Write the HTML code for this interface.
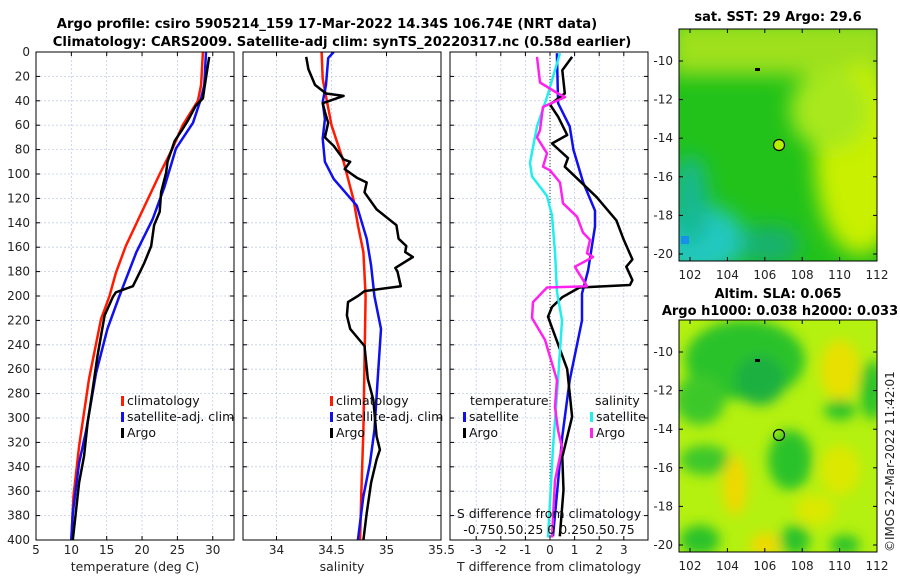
<!DOCTYPE html>
<html><head><meta charset="utf-8"><style>
body{margin:0;background:#fff}
svg{display:block;font-family:"DejaVu Sans","Liberation Sans",sans-serif}
</style></head><body>
<svg id="chart" width="900" height="580" viewBox="0 0 900 580">
<defs>
<filter id="blur6" x="-50%" y="-50%" width="200%" height="200%"><feGaussianBlur stdDeviation="6"/></filter>
<filter id="blur10" x="-50%" y="-50%" width="200%" height="200%"><feGaussianBlur stdDeviation="10"/></filter>
<clipPath id="cm1"><rect x="679" y="29" width="198" height="232"/></clipPath>
<clipPath id="cm2"><rect x="679" y="320" width="198" height="232"/></clipPath>
<clipPath id="cp1"><rect x="36" y="52" width="198" height="488"/></clipPath>
<clipPath id="cp2"><rect x="243" y="52" width="198" height="488"/></clipPath>
<clipPath id="cp3"><rect x="450" y="52" width="198" height="488"/></clipPath>
</defs>
<text x="327" y="28" text-anchor="middle" font-size="13.2" font-weight="bold">Argo profile: csiro 5905214_159 17-Mar-2022 14.34S 106.74E (NRT data)</text>
<text x="342" y="46" text-anchor="middle" font-size="13.2" font-weight="bold">Climatology: CARS2009. Satellite-adj clim: synTS_20220317.nc (0.58d earlier)</text>

<g id="maps">
<g clip-path="url(#cm1)">
<rect x="679" y="29" width="198" height="232" fill="#22c21a"/>
<g filter="url(#blur10)">
<rect x="670" y="20" width="220" height="55" fill="#9ee01a"/>
<ellipse cx="860" cy="160" rx="45" ry="95" fill="#c8f000"/>
<ellipse cx="830" cy="110" rx="40" ry="40" fill="#a8e81a"/>
<ellipse cx="700" cy="240" rx="45" ry="35" fill="#20c8c0"/>
<ellipse cx="690" cy="200" rx="18" ry="45" fill="#19b890"/>
<ellipse cx="770" cy="245" rx="30" ry="20" fill="#12b070"/>
</g>
<rect x="681" y="236" width="8" height="8" fill="#1890e8"/>
<circle cx="779" cy="145" r="5.5" fill="#b8ee00" stroke="#000" stroke-width="1.2"/>
<rect x="755" y="68" width="5" height="3" fill="#000"/>
</g>
<rect x="679" y="29" width="198" height="232" fill="none" stroke="#000"/>
<text x="778" y="21" text-anchor="middle" font-size="13" font-weight="bold">sat. SST: 29 Argo: 29.6</text>

<g clip-path="url(#cm2)">
<rect x="679" y="320" width="198" height="232" fill="#b4f010"/>
<g filter="url(#blur6)">
<ellipse cx="745" cy="360" rx="60" ry="40" fill="#2cc22a"/>
<ellipse cx="760" cy="380" rx="25" ry="25" fill="#1ab040"/>
<ellipse cx="700" cy="400" rx="25" ry="25" fill="#3cc82a"/>
<ellipse cx="705" cy="460" rx="25" ry="15" fill="#3cc82a"/>
<ellipse cx="790" cy="460" rx="22" ry="30" fill="#2cc22a"/>
<ellipse cx="840" cy="410" rx="16" ry="10" fill="#2cc22a"/>
<ellipse cx="872" cy="390" rx="12" ry="30" fill="#2cc22a"/>
<ellipse cx="700" cy="540" rx="20" ry="15" fill="#2cc22a"/>
<ellipse cx="795" cy="540" rx="15" ry="15" fill="#2cc22a"/>
<ellipse cx="845" cy="545" rx="15" ry="10" fill="#2cc22a"/>
<ellipse cx="840" cy="370" rx="20" ry="30" fill="#e8e000"/>
<ellipse cx="735" cy="485" rx="12" ry="30" fill="#f0d800"/>
<ellipse cx="765" cy="545" rx="15" ry="12" fill="#f0d800"/>
<ellipse cx="840" cy="470" rx="20" ry="25" fill="#dce800"/>
<ellipse cx="815" cy="510" rx="20" ry="15" fill="#dce800"/>
</g>
<circle cx="779" cy="435" r="5.5" fill="none" stroke="#000" stroke-width="1.2"/>
<rect x="755" y="359" width="5" height="3" fill="#000"/>
</g>
<rect x="679" y="320" width="198" height="232" fill="none" stroke="#000"/>
<text x="778" y="298" text-anchor="middle" font-size="13" font-weight="bold">Altim. SLA: 0.065</text>
<text x="780" y="315" text-anchor="middle" font-size="13" font-weight="bold">Argo h1000: 0.038 h2000: 0.033</text>
<text transform="translate(894,552) rotate(-90)" font-size="12" fill="#222">©IMOS 22-Mar-2022 11:42:01</text>
</g>
<g id="plots"></g>
</svg>
<script>
// ---- data ----
const depthTicks = [0,20,40,60,80,100,120,140,160,180,200,220,240,260,280,300,320,340,360,380,400];
const tempTicks = [5,10,15,20,25,30];
const salTicks = [34,34.5,35,35.5];
const dtTicks = [-3,-2,-1,0,1,2,3];
const dsTickLabels = "-0.750.50.25 0 0.250.50.75";
const lonTicks = [102,104,106,108,110,112];
const latTicks = [-10,-12,-14,-16,-18,-20];

const climTDepth = [0,27,40,60,79,100,127,159,181,200,219,268,323,364,400];
const climT = [28.6,28.35,27.9,25.75,24.3,22.5,20.3,17.7,16.3,15.4,14.2,12.5,11.1,10.3,10.0];
const satTDepth = [0,27,38,58,79,110,137,164,200,227,263,310,337,378,400];
const satT = [29.05,28.8,28.35,27.2,24.8,23.2,21.5,19.2,16.8,15.1,13.5,12.1,11.1,10.2,10.0];
const argoTDepth = [4,30,38,44,56,63,73,90,99,115,131,142,159,173,178,192,197,201,216,249,277,304,331,353,400];
const argoT = [29.5,28.8,28.6,27.6,26.5,25.75,24.6,23.6,23.4,22.7,22.5,21.7,21.3,20.3,19.9,18.7,16.3,15.85,14.7,13.7,13.0,12.3,11.8,11.1,10.2];

const climSDepth = [0,22,60,90,121,142,164,200,255,310,364,400];
const climS = [34.41,34.42,34.50,34.61,34.70,34.74,34.79,34.81,34.80,34.79,34.77,34.76];
const satSDepth = [0,5,27,41,55,71,90,104,126,153,175,200,227,268,310,337,364,400];
const satS = [34.52,34.47,34.45,34.42,34.44,34.42,34.44,34.52,34.73,34.82,34.86,34.89,34.95,34.92,34.89,34.85,34.79,34.74];
const argoSDepth = [4,14,27,34,36,42,49,58,70,77,88,90,96,103,107,115,129,142,153,159,164,168,177,180,192,196,200,205,216,227,241,268,285,315,326,334,353,378,400];
const argoS = [34.27,34.29,34.35,34.45,34.61,34.42,34.44,34.47,34.44,34.52,34.61,34.67,34.62,34.73,34.82,34.80,34.91,35.09,35.11,35.18,35.17,35.24,35.08,35.10,35.13,34.80,34.74,34.65,34.64,34.67,34.80,34.83,34.88,34.91,34.94,34.91,34.86,34.82,34.79];

const dTSatDepth = [1,42,61,80,107,130,143,179,198,220,269,315,397];
const dTSat = [0.28,0.33,0.8,0.95,1.35,1.83,1.83,1.55,1.3,1.3,0.8,0.5,0.12];
const dTArgoDepth = [4,15,34,43,53,68,75,87,94,119,138,154,170,176,187,191,193,201,209,217,260,299,332,359,397];
const dTArgo = [0.9,0.5,0.6,0,0.33,0.7,0.08,0.73,0.6,1.9,2.7,3.0,3.35,3.1,3.35,3.25,1.2,0.5,0.08,-0.08,0.7,0.9,0.5,0.55,0.4];
const dSSatDepth = [1,37,61,91,102,118,134,164,197,220,269,324,398];
const dSSat = [0.10,-0.03,-0.13,-0.20,-0.18,-0.03,0.02,0.05,0.07,0.12,0.08,0.03,-0.02];
const dSArgoDepth = [4,25,34,37,45,64,70,83,94,97,107,124,135,148,154,165,168,176,179,192,193,205,218,236,269,291,310,324,351,398];
const dSArgo = [-0.13,-0.10,0.08,0.15,-0.07,-0.10,-0.13,-0.03,-0.07,0,0.10,0.13,0.27,0.33,0.40,0.37,0.43,0.25,0.27,0.37,-0.03,-0.17,-0.18,-0.05,0.07,0.05,0.08,0.12,0.05,0.02];

// ---- axes ----
const Y0=52, Y1=540;
const yD = d => Y0 + d*(Y1-Y0)/400;
const xT = t => 36 + (t-5)*7.07;
const xS = s => 276.5 + (s-34)*110;
const xdT = t => 550 + t*24.6;
const xdS = s => 550 + s*100;

const NS="http://www.w3.org/2000/svg";
const root=document.getElementById('plots');
function mk(tag,attrs,parent){const e=document.createElementNS(NS,tag);for(const k in attrs)e.setAttribute(k,attrs[k]);(parent||root).appendChild(e);return e;}

function panel(x0,name,xticks,xf,xlabels,xtitle){
  const g=mk('g',{});
  
  
  depthTicks.forEach(d=>{ if(d>0&&d<400) mk('line',{x1:x0,x2:x0+198,y1:yD(d),y2:yD(d),stroke:'#c4cce8','stroke-width':0.8,'stroke-dasharray':'2,2'},g);
    mk('line',{x1:x0,x2:x0+4,y1:yD(d),y2:yD(d),stroke:'#000'},g); mk('line',{x1:x0+194,x2:x0+198,y1:yD(d),y2:yD(d),stroke:'#000'},g);});
  xticks.forEach((v,i)=>{const x=xf(v); if(x>x0+1&&x<x0+197){mk('line',{x1:x,x2:x,y1:Y0,y2:Y1,stroke:'#c4cce8','stroke-width':0.8,'stroke-dasharray':'2,2'},g);
    mk('line',{x1:x,x2:x,y1:Y1,y2:Y1-4,stroke:'#000'},g);mk('line',{x1:x,x2:x,y1:Y0,y2:Y0+4,stroke:'#000'},g);}
    const t=mk('text',{x:x,y:554,'text-anchor':'middle','font-size':12,fill:'#222'},g);t.textContent=xlabels[i];
    
    });
  const tt=mk('text',{x:x0+99,y:571,'text-anchor':'middle','font-size':12.5,fill:'#222'},g);tt.textContent=xtitle;
  
  
  return g;
}
function line(g,xs,ds,xf,color,name,clip){
  const p=mk('polyline',{points:xs.map((v,i)=>xf(v).toFixed(1)+','+yD(ds[i]).toFixed(1)).join(' '),fill:'none',stroke:color,'stroke-width':2.5,'stroke-linejoin':'round','clip-path':clip},g);
  
  
}
function box(g,x0){mk('rect',{x:x0,y:Y0,width:198,height:Y1-Y0,fill:'none',stroke:'#000'},g);}
function legend(g,x,y,color,label){mk('rect',{x:x,y:y-9,width:3,height:10,fill:color},g);const t=mk('text',{x:x+6,y:y,'font-size':12.5,fill:'#111'},g);t.textContent=label;
  
  }

depthTicks.forEach(d=>{const t=mk('text',{x:30,y:yD(d)+4,'text-anchor':'end','font-size':12,fill:'#222'});t.textContent=d;
  
  });

const p1=panel(36,'temperature-panel',tempTicks,xT,tempTicks.map(String),'temperature (deg C)');
line(p1,climT,climTDepth,xT,'#ff1a00','climatology-temp-line','url(#cp1)');
line(p1,satT,satTDepth,xT,'#1010ee','satellite-temp-line','url(#cp1)');
line(p1,argoT,argoTDepth,xT,'#000','argo-temp-line','url(#cp1)');
box(p1,36);
legend(p1,121,405,'#ff1a00','climatology');legend(p1,121,421,'#1010ee','satellite-adj. clim');legend(p1,121,437,'#000','Argo');

const p2=panel(243,'salinity-panel',salTicks,xS,['34','34.5','35','35.5'],'salinity');
line(p2,climS,climSDepth,xS,'#ff1a00','climatology-salinity-line','url(#cp2)');
line(p2,satS,satSDepth,xS,'#1010ee','satellite-salinity-line','url(#cp2)');
line(p2,argoS,argoSDepth,xS,'#000','argo-salinity-line','url(#cp2)');
box(p2,243);
legend(p2,330,405,'#ff1a00','climatology');legend(p2,330,421,'#1010ee','satellite-adj. clim');legend(p2,330,437,'#000','Argo');

const p3=panel(450,'difference-panel',dtTicks,xdT,dtTicks.map(String),'T difference from climatology');
mk('line',{x1:xdT(0),x2:xdT(0),y1:Y0,y2:Y1,stroke:'#333','stroke-width':1,'stroke-dasharray':'1,2'},p3);
line(p3,dTSat,dTSatDepth,xdT,'#1010ee','satellite-t-diff-line','url(#cp3)');
line(p3,dTArgo,dTArgoDepth,xdT,'#000','argo-t-diff-line','url(#cp3)');
line(p3,dSSat,dSSatDepth,xdS,'#22eeee','satellite-s-diff-line','url(#cp3)');
line(p3,dSArgo,dSArgoDepth,xdS,'#ff22ee','argo-s-diff-line','url(#cp3)');
const lt=mk('text',{x:470,y:405,'font-size':12.5,fill:'#111'},p3);lt.textContent='temperature';
const ls=mk('text',{x:595,y:405,'font-size':12.5,fill:'#111'},p3);ls.textContent='salinity';
legend(p3,463,421,'#1010ee','satellite');legend(p3,463,437,'#000','Argo');
legend(p3,590,421,'#22eeee','satellite');legend(p3,590,437,'#ff22ee','Argo');
const st=mk('text',{x:549,y:518,'text-anchor':'middle','font-size':12.5,fill:'#111'},p3);st.textContent='S difference from climatology';


const sl=mk('text',{x:549,y:534,'text-anchor':'middle','font-size':12.5,fill:'#111'},p3);sl.textContent=dsTickLabels;


box(p3,450);

const ly=[61,352], lx=lon=>690+(lon-102)*18.7;
[29,320].forEach((top,mi)=>{
  const base=ly[mi];
  latTicks.forEach(l=>{const y=base+(-10-l)*19.3;
    mk('line',{x1:679,x2:683,y1:y,y2:y,stroke:'#000'});mk('line',{x1:873,x2:877,y1:y,y2:y,stroke:'#000'});
    const t=mk('text',{x:673,y:y+4,'text-anchor':'end','font-size':12,fill:'#222'});t.textContent=l;
    
    });
  lonTicks.forEach(l=>{const x=lx(l);
    mk('line',{x1:x,x2:x,y1:top+232,y2:top+228,stroke:'#000'});mk('line',{x1:x,x2:x,y1:top,y2:top+4,stroke:'#000'});
    const t=mk('text',{x:x,y:top+250,'text-anchor':'middle','font-size':12,fill:'#222'});t.textContent=l;
    
    });
});
</script>
</body></html>
